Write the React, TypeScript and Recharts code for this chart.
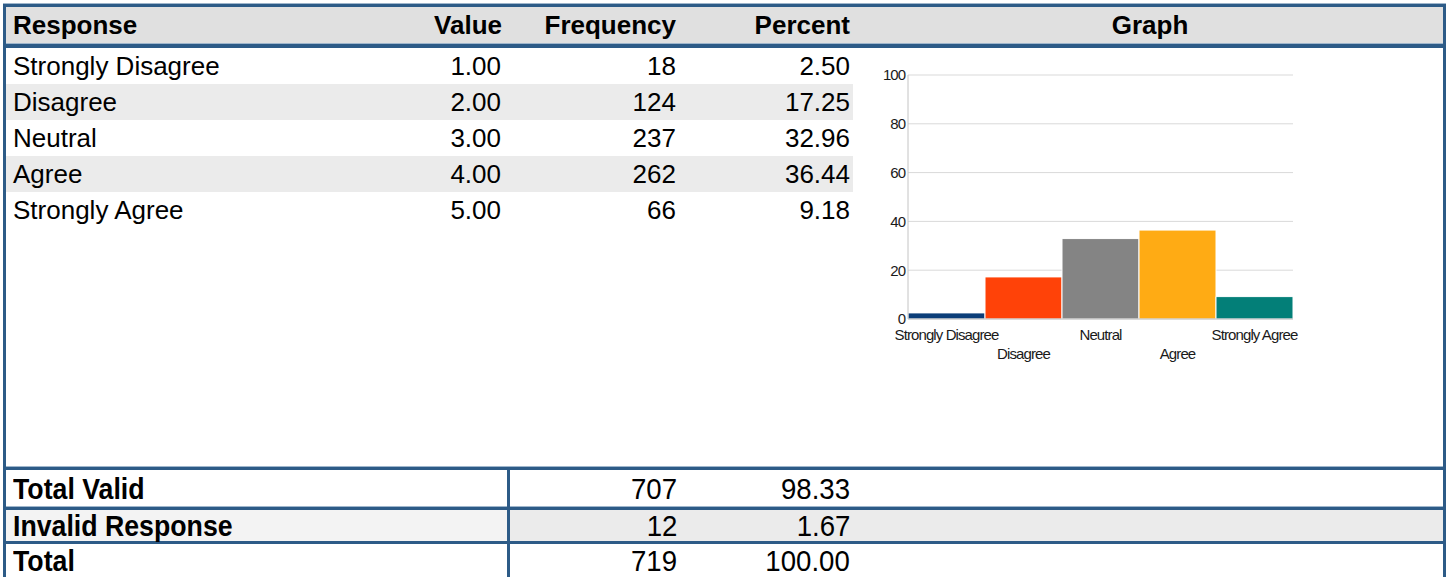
import React from 'react';
import { BarChart, Bar, XAxis, YAxis, CartesianGrid, Cell } from 'recharts';

const headers = ['Response', 'Value', 'Frequency', 'Percent', 'Graph'];
const responses = ['Strongly Disagree', 'Disagree', 'Neutral', 'Agree', 'Strongly Agree'];
const values = ['1.00', '2.00', '3.00', '4.00', '5.00'];
const frequencies = [18, 124, 237, 262, 66];
const percents = [2.5, 17.25, 32.96, 36.44, 9.18];
const barColors = ['#0b3d78', '#ff4208', '#848484', '#ffab14', '#037f78'];
const yTicks = [0, 20, 40, 60, 80, 100];
const summaryLabels = ['Total Valid', 'Invalid Response', 'Total'];
const summaryFrequencies = [707, 12, 719];
const summaryPercents = ['98.33', '1.67', '100.00'];

const chartData = responses.map((r, i) => ({ name: r, percent: percents[i] }));

const BLUE = '#2d5b87';
const LIGHT = '#9fb6cc';
const SANS = "'Liberation Sans', Arial, Helvetica, sans-serif";

const box = (left: number, top: number, width: number, height: number, bg: string): React.CSSProperties => ({
  position: 'absolute', left, top, width, height, background: bg,
});

const XTick = (props: any) => {
  const { x, y, payload, index } = props;
  const off = index % 2 === 0 ? 21 : 40;
  return (
    <text x={x} y={y + off} textAnchor="middle" fill="#1a1a1a"
      style={{ fontFamily: SANS, fontSize: 15, letterSpacing: -0.9 }}>
      {payload.value}
    </text>
  );
};

function Txt({ left, top, width, height, align, bold, size, scale, children }: any) {
  return (
    <div style={{
      position: 'absolute', left, top, width, height, lineHeight: height + 'px',
      textAlign: align, fontWeight: bold ? 700 : 400, fontSize: size, fontFamily: SANS,
      color: '#000', whiteSpace: 'nowrap',
    }}>
      {scale ? (
        <span style={{ display: 'inline-block', transform: `scaleX(${scale})`, transformOrigin: align === 'right' ? 'right center' : 'left center' }}>{children}</span>
      ) : children}
    </div>
  );
}

export default function App() {
  const rowTop = 48;
  const rowH = 36;
  const cols = [
    { left: 13, width: 300 },
    { left: 400, width: 101 },
    { left: 560, width: 116 },
    { left: 740, width: 110 },
  ];
  const sumRows = [
    { top: 470, h: 37 },
    { top: 510, h: 31 },
    { top: 544, h: 33 },
  ];
  return (
    <div style={{ position: 'absolute', left: 0, top: 0, width: 1448, height: 577, overflow: 'hidden', background: '#fff' }}>
      {/* header */}
      <div style={box(6, 7, 1437, 37, '#e0e0e0')} />
      <div style={box(3, 3, 1443, 1, LIGHT)} />
      <div style={box(3, 4, 1443, 3, BLUE)} />
      <div style={box(3, 43, 1443, 1, LIGHT)} />
      <div style={box(3, 44, 1443, 4, BLUE)} />
      <Txt left={13} top={7} width={300} height={37} align="left" bold size={26}>{headers[0]}</Txt>
      <Txt left={400} top={7} width={102} height={37} align="right" bold size={26}>{headers[1]}</Txt>
      <Txt left={520} top={7} width={156} height={37} align="right" bold size={26}>{headers[2]}</Txt>
      <Txt left={700} top={7} width={150} height={37} align="right" bold size={26}>{headers[3]}</Txt>
      <Txt left={856} top={7} width={588} height={37} align="center" bold size={26}>{headers[4]}</Txt>

      {/* data rows */}
      {responses.map((r, i) => (
        <React.Fragment key={r}>
          {i % 2 === 1 && <div style={box(6, rowTop + i * rowH, 847, rowH, '#ebebeb')} />}
          <Txt left={cols[0].left} top={rowTop + i * rowH} width={cols[0].width} height={rowH} align="left" size={26}>{r}</Txt>
          <Txt left={cols[1].left} top={rowTop + i * rowH} width={cols[1].width} height={rowH} align="right" size={26}>{values[i]}</Txt>
          <Txt left={cols[2].left} top={rowTop + i * rowH} width={cols[2].width} height={rowH} align="right" size={26}>{frequencies[i]}</Txt>
          <Txt left={cols[3].left} top={rowTop + i * rowH} width={cols[3].width} height={rowH} align="right" size={26}>{percents[i].toFixed(2)}</Txt>
        </React.Fragment>
      ))}

      {/* chart */}
      <div style={{ position: 'absolute', left: 860, top: 60 }}>
        <BarChart width={440} height={310} data={chartData} barCategoryGap={0}
          margin={{ top: 15, right: 7, bottom: 0, left: 0 }}>
          <CartesianGrid horizontal vertical={false} stroke="#d9d9d9" />
          <XAxis dataKey="name" height={51} interval={0} tickLine={false} tickSize={0} tickMargin={0}
            axisLine={{ stroke: '#bdbdbd' }} tick={<XTick />} />
          <YAxis width={48} domain={[0, 100]} ticks={yTicks} tickLine={false} tickSize={3} tickMargin={0}
            axisLine={{ stroke: '#c4c4c4' }}
            tick={{ fill: '#1a1a1a', fontSize: 15, fontFamily: SANS, letterSpacing: -1 }} />
          <Bar dataKey="percent" isAnimationActive={false} stroke="#ffffff" strokeWidth={1}>
            {chartData.map((d, i) => <Cell key={d.name} fill={barColors[i]} />)}
          </Bar>
        </BarChart>
      </div>

      {/* bottom of body */}
      <div style={box(3, 466, 1443, 1, LIGHT)} />
      <div style={box(3, 467, 1443, 3, BLUE)} />

      {/* summary rows */}
      <div style={box(6, 510, 501, 31, '#f3f3f3')} />
      <div style={box(510, 510, 933, 31, '#ebebeb')} />
      <div style={box(3, 506, 1443, 1, LIGHT)} />
      <div style={box(3, 507, 1443, 3, BLUE)} />
      <div style={box(3, 541, 1443, 3, BLUE)} />
      <div style={box(507, 470, 3, 107, BLUE)} />
      {summaryLabels.map((l, i) => (
        <React.Fragment key={l}>
          <Txt left={13} top={sumRows[i].top} width={400} height={sumRows[i].h} align="left" bold size={30} scale={0.89}>{l}</Txt>
          <Txt left={560} top={sumRows[i].top} width={117} height={sumRows[i].h} align="right" size={30} scale={0.92}>{summaryFrequencies[i]}</Txt>
          <Txt left={700} top={sumRows[i].top} width={150} height={sumRows[i].h} align="right" size={30} scale={0.92}>{summaryPercents[i]}</Txt>
        </React.Fragment>
      ))}

      {/* side borders */}
      <div style={box(3, 4, 3, 573, BLUE)} />
      <div style={box(1443, 4, 3, 573, BLUE)} />
    </div>
  );
}
